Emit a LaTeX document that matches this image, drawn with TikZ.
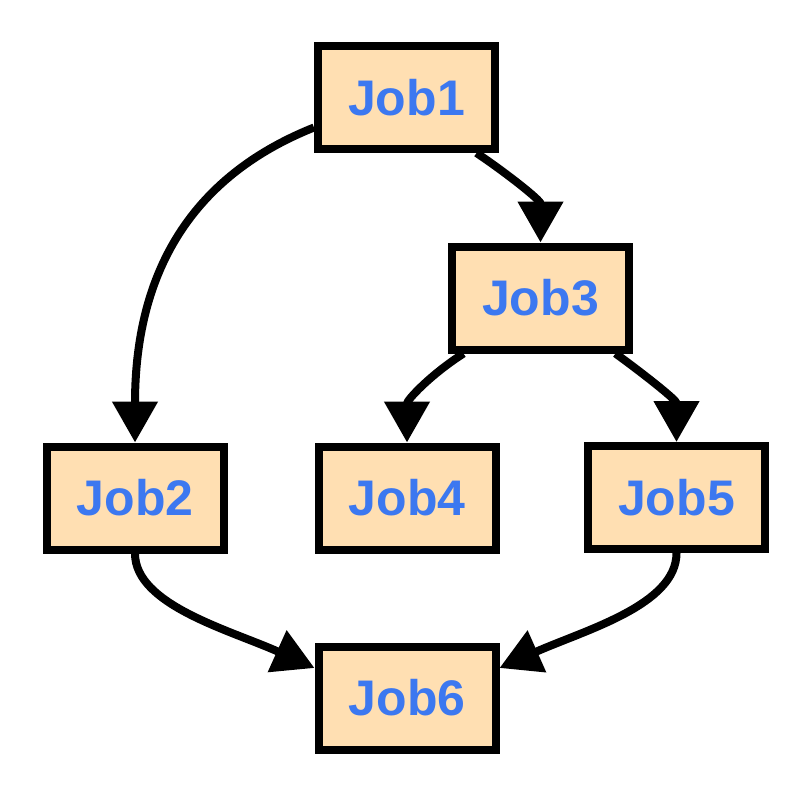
\documentclass[tikz,border=0pt]{standalone}
\usepackage{fontspec}
\setmainfont{Liberation Sans}
\usetikzlibrary{arrows.meta,calc}
\definecolor{boxfill}{HTML}{FFDFB2}
\definecolor{jobtext}{HTML}{3C78F0}
\begin{document}
\begin{tikzpicture}[x=1pt,y=-1pt,
  job/.style={draw=black,line width=8pt,fill=boxfill,rectangle,
    minimum width=177pt,minimum height=103pt,inner sep=0pt,
    text=jobtext,font=\fontsize{50}{60}\selectfont\bfseries},
  conn/.style={line width=8pt,-{Triangle[width=44pt,length=41pt]}}]
\useasboundingbox (0,0) rectangle (808,792);
\node[job] (j1) at (406.5,97.5) {Job1};
\node[job] (j3) at (540.5,298) {Job3};
\node[job] (j2) at (135,498) {Job2};
\node[job] (j4) at (407,498) {Job4};
\node[job] (j5) at (676.5,497.5) {Job5};
\node[job] (j6) at (407,698) {Job6};
\draw[conn] ([yshift=-30pt]j1.west) .. controls (170,185) and (135,300) .. (j2.north);
\draw[conn] ([xshift=70pt]j1.south) .. controls (505,172) and (540.5,200) .. (j3.north);
\draw[conn] ([xshift=-77pt]j3.south) .. controls (430,375) and (407,400) .. (j4.north);
\draw[conn] ([xshift=75pt]j3.south) .. controls (645,375) and (676.5,400) .. (j5.north);
\draw[conn] (j2.south) .. controls (135,605) and (230,630) .. ([yshift=30pt]j6.west);
\draw[conn] (j5.south) .. controls (676.5,605) and (585,630) .. ([yshift=30pt]j6.east);
\end{tikzpicture}
\end{document}
